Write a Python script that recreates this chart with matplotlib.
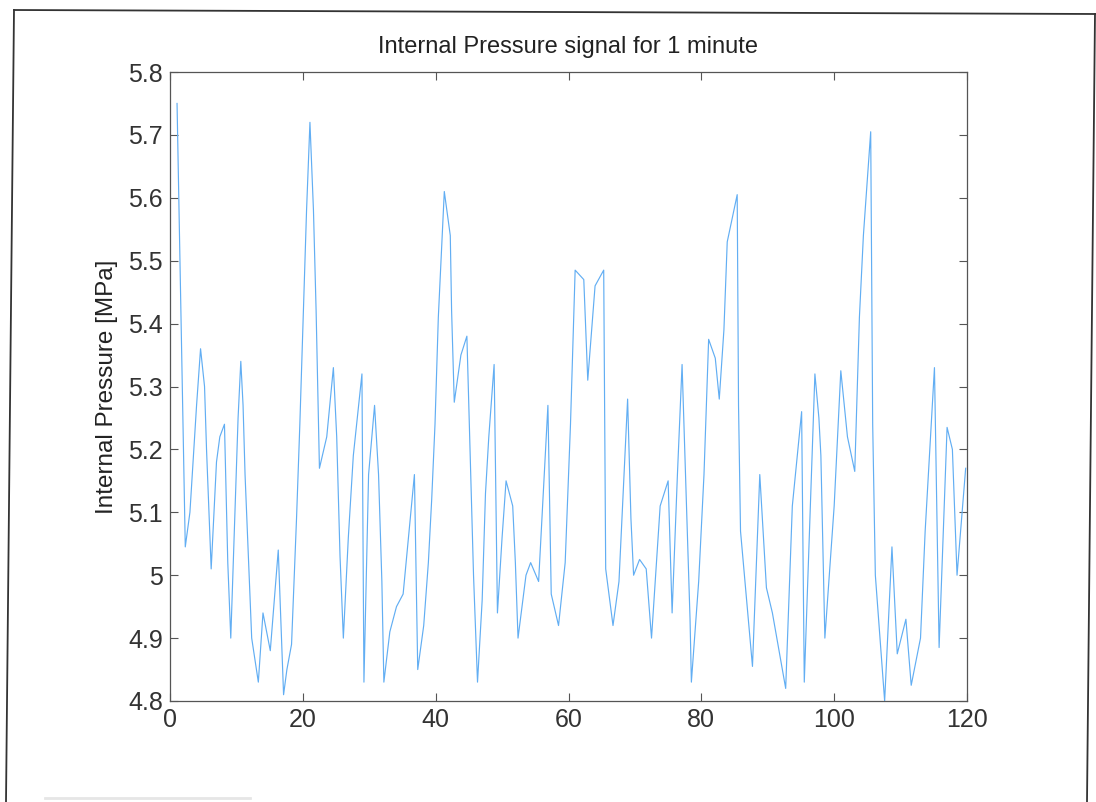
import matplotlib
matplotlib.use("Agg")
import matplotlib.pyplot as plt
from matplotlib.lines import Line2D

# Data
time_s = [1.06, 2.3, 3.0, 4.0, 4.6, 5.2, 5.5, 6.2, 7.0, 7.5, 8.2, 8.7, 9.15, 9.75, 10.25,
          10.66, 11.0, 11.3, 11.8, 12.3, 13.3, 14.0, 15.1, 16.3, 17.1, 17.6, 18.3, 19.05,
          19.55, 20.06, 20.56, 21.07, 21.6, 22.0, 22.5, 23.6, 24.6, 25.1, 25.6, 26.1, 26.85,
          27.6, 28.1, 28.9, 29.2, 29.9, 30.8, 31.4, 31.9, 32.2, 33.1, 34.1, 35.1, 35.9, 36.8,
          37.3, 38.2, 38.9, 39.4, 39.9, 40.4, 40.9, 41.3, 42.2, 42.4, 42.8, 43.8, 44.7, 45.2,
          45.7, 46.3, 47.0, 47.5, 48.0, 48.8, 49.3, 50.0, 50.6, 51.6, 52.0, 52.4, 53.6, 54.3,
          55.5, 56.0, 56.9, 57.4, 58.5, 59.5, 60.3, 61.0, 62.3, 62.9, 64.0, 65.3, 65.6, 66.7,
          67.6, 68.9, 69.4, 69.8, 70.7, 71.7, 72.5, 73.8, 75.0, 75.6, 76.4, 77.1, 78.3, 78.5,
          79.6, 80.4, 81.1, 82.1, 82.7, 83.4, 83.9, 85.4, 85.6, 85.9, 87.7, 88.8, 89.8, 90.7,
          92.7, 93.7, 95.1, 95.5, 97.1, 97.7, 98.0, 98.6, 100.0, 101.0, 102.0, 103.1, 103.8,
          104.4, 105.5, 105.8, 106.2, 107.6, 108.7, 109.5, 110.8, 111.6, 113.0, 113.7, 115.1,
          115.8, 117.0, 117.8, 118.5, 119.8]
pressure = [5.75, 5.045, 5.10, 5.27, 5.36, 5.30, 5.20, 5.01, 5.18, 5.22, 5.24, 5.02, 4.90,
            5.09, 5.25, 5.34, 5.27, 5.16, 5.03, 4.90, 4.83, 4.94, 4.88, 5.04, 4.81, 4.85, 4.89,
            5.09, 5.24, 5.41, 5.58, 5.72, 5.58, 5.42, 5.17, 5.22, 5.33, 5.22, 5.03, 4.90, 5.06,
            5.19, 5.24, 5.32, 4.83, 5.16, 5.27, 5.16, 4.99, 4.83, 4.91, 4.95, 4.97, 5.06, 5.16,
            4.85, 4.92, 5.02, 5.12, 5.24, 5.41, 5.52, 5.61, 5.54, 5.42, 5.275, 5.35, 5.38, 5.19,
            5.00, 4.83, 4.96, 5.13, 5.22, 5.335, 4.94, 5.06, 5.15, 5.11, 5.02, 4.90, 5.00, 5.02,
            4.99, 5.09, 5.27, 4.97, 4.92, 5.02, 5.24, 5.485, 5.47, 5.31, 5.46, 5.485, 5.01, 4.92,
            4.99, 5.28, 5.09, 5.00, 5.025, 5.01, 4.90, 5.11, 5.15, 4.94, 5.16, 5.335, 4.93, 4.83,
            4.99, 5.16, 5.375, 5.345, 5.28, 5.39, 5.53, 5.605, 5.27, 5.07, 4.855, 5.16, 4.98, 4.94,
            4.82, 5.11, 5.26, 4.83, 5.32, 5.25, 5.19, 4.90, 5.11, 5.325, 5.22, 5.165, 5.41,
            5.54, 5.705, 5.24, 5.00, 4.80, 5.045, 4.875, 4.93, 4.825, 4.90, 5.07, 5.33,
            4.885, 5.235, 5.20, 5.00, 5.17]

x_ticks = [0, 20, 40, 60, 80, 100, 120]
y_ticks = [4.8, 4.9, 5.0, 5.1, 5.2, 5.3, 5.4, 5.5, 5.6, 5.7, 5.8]
y_tick_labels = ["4.8", "4.9", "5", "5.1", "5.2", "5.3", "5.4", "5.5", "5.6", "5.7", "5.8"]
title = "Internal Pressure signal for 1 minute"
ylabel = "Internal Pressure [MPa]"

plt.rcParams['font.family'] = ['Liberation Sans', 'DejaVu Sans']

W, H = 1096, 802
fig = plt.figure(figsize=(W / 100, H / 100), dpi=100)
fig.patch.set_facecolor('white')

left, right, top, bottom = 170, 967, 72, 701
ax = fig.add_axes([left / W, 1 - bottom / H, (right - left) / W, (bottom - top) / H])

ax.plot(time_s, pressure, color='#62aef3', lw=0.85)

ax.set_xlim(0, 120)
ax.set_ylim(4.8, 5.8)
ax.set_xticks(x_ticks)
ax.set_xticklabels([str(v) for v in x_ticks])
ax.set_yticks(y_ticks)
ax.set_yticklabels(y_tick_labels)

ax.tick_params(direction='in', length=6, width=0.8, colors='#555555',
               labelcolor='#333333', labelsize=18, top=True, right=True, pad=5)
for s in ax.spines.values():
    s.set_color('#555555')
    s.set_linewidth(0.9)

ax.set_title(title, fontsize=17, color='#222222', pad=14)
ax.set_ylabel(ylabel, fontsize=17.5, color='#222222', labelpad=7)

# scanned page frame
def px(x, y):
    return (x / W, 1 - y / H)

frame_color = '#333333'
for (x0, y0), (x1, y1) in [((14, 10), (6, 802)), ((14, 10), (1096, 14)), ((1095, 14), (1087, 802))]:
    a, b = px(x0, y0)
    c, d = px(x1, y1)
    fig.add_artist(Line2D([a, c], [b, d], color=frame_color, lw=1.3, transform=fig.transFigure))
a, b = px(45, 798)
c, d = px(250, 798)
fig.add_artist(Line2D([a, c], [b, d], color='#e6e6e6', lw=2, transform=fig.transFigure))

fig.savefig("out.png", dpi=100, facecolor='white')
